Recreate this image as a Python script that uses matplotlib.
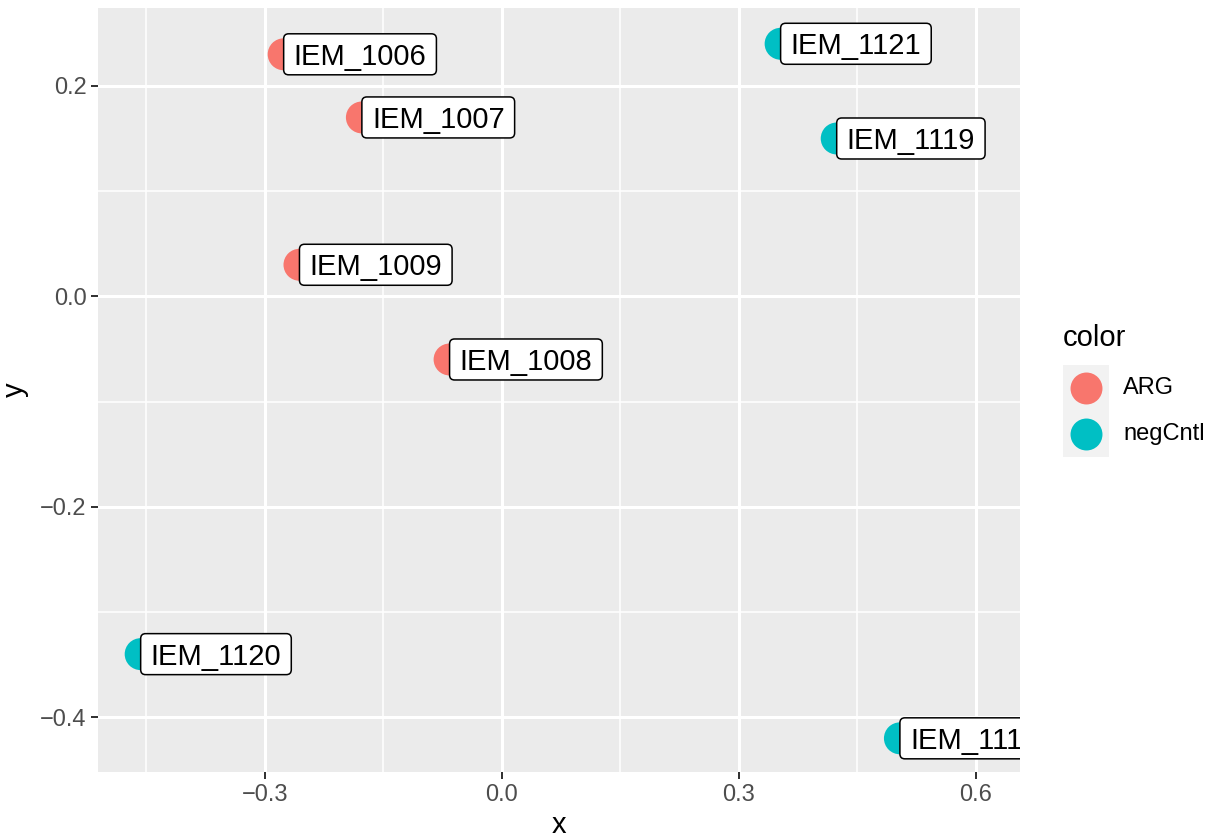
import matplotlib
matplotlib.use("Agg")
import matplotlib.pyplot as plt
from matplotlib.patches import FancyBboxPatch, Rectangle
from matplotlib.lines import Line2D
from matplotlib.transforms import Affine2D, ScaledTranslation, offset_copy

# ---- data ----
labels = ["IEM_1006", "IEM_1007", "IEM_1008", "IEM_1009",
          "IEM_1118", "IEM_1119", "IEM_1120", "IEM_1121"]
xs = [-0.276, -0.177, -0.066, -0.256, 0.504, 0.424, -0.457, 0.353]
ys = [0.230, 0.170, -0.060, 0.030, -0.420, 0.150, -0.340, 0.240]
groups = ["ARG", "ARG", "ARG", "ARG", "negCntl", "negCntl", "negCntl", "negCntl"]
group_levels = ["ARG", "negCntl"]
palette = {"ARG": "#F8766D", "negCntl": "#00BFC4"}
x_ticks = [-0.3, 0.0, 0.3, 0.6]
x_tick_labels = ["\u22120.3", "0.0", "0.3", "0.6"]
x_minor = [-0.45, -0.15, 0.15, 0.45]
y_ticks = [-0.4, -0.2, 0.0, 0.2]
y_tick_labels = ["\u22120.4", "\u22120.2", "0.0", "0.2"]
y_minor = [-0.3, -0.1, 0.1]

DPI = 100
W, H = 1214, 838
plt.rcParams["font.family"] = ["Liberation Sans", "DejaVu Sans"]

fig = plt.figure(figsize=(W / DPI, H / DPI), dpi=DPI)
L, R, T, B = 98, 1020, 8, 772
ax = fig.add_axes([L / W, 1 - B / H, (R - L) / W, (B - T) / H])
ax.set_facecolor("#EBEBEB")
for s in ax.spines.values():
    s.set_visible(False)

ax.set_xlim(-0.511, 0.656)
ax.set_ylim(-0.452, 0.274)

ax.set_xticks(x_ticks)
ax.set_xticklabels(x_tick_labels)
ax.set_yticks(y_ticks)
ax.set_yticklabels(y_tick_labels)
ax.set_xticks(x_minor, minor=True)
ax.set_yticks(y_minor, minor=True)
ax.tick_params(which="major", length=5.3, width=1.44, color="#333333",
               labelsize=17, labelcolor="#4D4D4D", pad=3)
ax.tick_params(which="minor", length=0)
ax.grid(which="major", color="white", linewidth=2.16)
ax.grid(which="minor", color="white", linewidth=1.1)
ax.set_axisbelow(True)

ax.set_xlabel("x", fontsize=21, labelpad=4)
ax.set_ylabel("y", fontsize=21, labelpad=8)

# points
for g in group_levels:
    gx = [x for x, gg in zip(xs, groups) if gg == g]
    gy = [y for y, gg in zip(ys, groups) if gg == g]
    ax.scatter(gx, gy, s=23 ** 2, color=palette[g], edgecolors="none", zorder=3)

# labels (box left edge at point)
fig.canvas.draw()
renderer = fig.canvas.get_renderer()
fs = 21
pad_px = 10
box_h = 41
cap_px = 0.716 * fs * DPI / 72
for lab, x, y in zip(labels, xs, ys):
    ttrans = offset_copy(ax.transData, fig=fig, x=pad_px, y=-cap_px / 2, units="dots")
    t = ax.text(x, y, lab, transform=ttrans, ha="left", va="baseline",
                fontsize=fs, color="black", zorder=5, clip_on=True)
    t.set_clip_path(ax.patch)
    wpx = t.get_window_extent(renderer).width
    btrans = Affine2D() + ScaledTranslation(x, y, ax.transData)
    box = FancyBboxPatch((0, -box_h / 2), wpx + 2 * pad_px, box_h,
                         boxstyle="round,pad=0,rounding_size=5",
                         facecolor="white", edgecolor="black", linewidth=1.1,
                         transform=btrans, zorder=4)
    ax.add_artist(box)
    box.set_clip_path(ax.patch)

# legend (manual)
def fx(px):
    return px / W

def fy(py):
    return 1 - py / H

fig.text(fx(1063), fy(338), "color", fontsize=21, ha="left", va="center")
key_size = 46
key_top = 365
for i, g in enumerate(group_levels):
    top = key_top + i * key_size
    fig.add_artist(Rectangle((fx(1063), fy(top + key_size)), key_size / W, key_size / H,
                             transform=fig.transFigure, facecolor="#F2F2F2",
                             edgecolor="none"))
    cy = top + key_size / 2
    fig.add_artist(Line2D([fx(1063 + key_size / 2)], [fy(cy)], marker="o",
                          markersize=23, color=palette[g], markeredgewidth=0,
                          transform=fig.transFigure, linestyle="none"))
    fig.text(fx(1123), fy(cy), g, fontsize=17, ha="left", va="center")

fig.savefig("out.png", dpi=DPI)
